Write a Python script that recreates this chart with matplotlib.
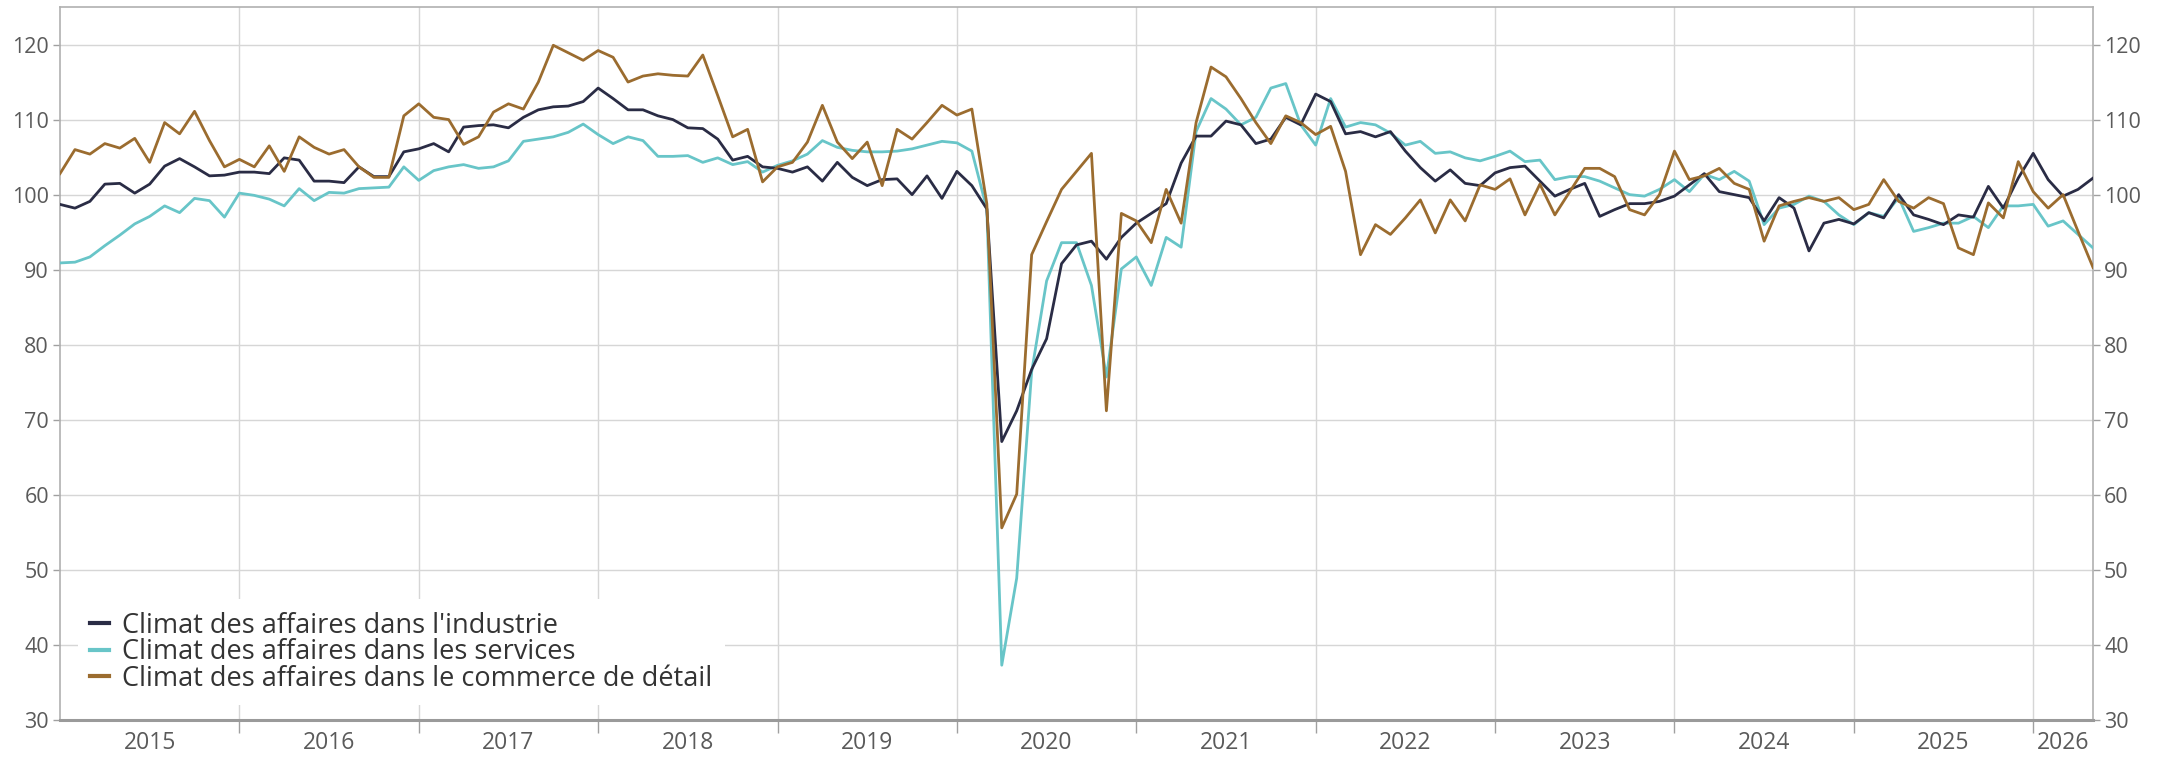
import matplotlib.pyplot as plt
import numpy as np

# Climat des affaires, mensuel, janvier 2015 -> mai 2026
industrie = [
    98.7, 98.2, 99.1, 101.4, 101.5, 100.2, 101.4, 103.8, 104.8, 103.7, 102.5, 102.6,
    103.0, 103.0, 102.8, 104.9, 104.6, 101.8, 101.8, 101.6, 103.7, 102.4, 102.4, 105.7,
    106.1, 106.8, 105.7, 109.0, 109.2, 109.3, 108.9, 110.3, 111.3, 111.7, 111.8, 112.4,
    114.2, 112.8, 111.3, 111.3, 110.5, 110.0, 108.9, 108.8, 107.4, 104.6, 105.1, 103.7,
    103.5, 103.0, 103.7, 101.8, 104.3, 102.3, 101.2, 102.0, 102.1, 100.0, 102.5, 99.5,
    103.1, 101.2, 98.1, 67.1, 71.2, 76.7, 80.8, 90.8, 93.3, 93.8, 91.4, 94.3,
    96.2, 97.5, 98.8, 104.2, 107.8, 107.8, 109.8, 109.3, 106.8, 107.4, 110.3, 109.3,
    113.4, 112.4, 108.1, 108.4, 107.7, 108.4, 105.8, 103.6, 101.8, 103.3, 101.5, 101.2,
    102.9, 103.6, 103.8, 101.8, 99.8, 100.7, 101.5, 97.1, 98.0, 98.8, 98.8, 99.1,
    99.8, 101.3, 102.8, 100.4, 100.0, 99.6, 96.5, 99.6, 98.2, 92.5, 96.2, 96.7,
    96.1, 97.6, 96.9, 100.0, 97.3, 96.7, 96.0, 97.3, 97.0, 101.1, 98.2, 102.2,
    105.5, 102.0, 99.8, 100.7, 102.2,
]
services = [
    90.9, 91.0, 91.7, 93.2, 94.6, 96.1, 97.1, 98.5, 97.6, 99.5, 99.2, 97.0,
    100.2, 99.9, 99.4, 98.5, 100.8, 99.2, 100.3, 100.2, 100.8, 100.9, 101.0, 103.7,
    101.9, 103.2, 103.7, 104.0, 103.5, 103.7, 104.5, 107.1, 107.4, 107.7, 108.3, 109.4,
    108.0, 106.8, 107.7, 107.2, 105.1, 105.1, 105.2, 104.3, 104.9, 104.0, 104.4, 103.0,
    103.9, 104.5, 105.4, 107.2, 106.3, 105.9, 105.7, 105.7, 105.8, 106.1, 106.6, 107.1,
    106.9, 105.8, 98.1, 37.3, 48.9, 76.4, 88.5, 93.6, 93.6, 87.9, 75.7, 90.1,
    91.7, 87.9, 94.3, 93.0, 108.4, 112.8, 111.4, 109.3, 110.3, 114.2, 114.8, 109.3,
    106.6, 112.8, 109.0, 109.6, 109.3, 108.2, 106.6, 107.1, 105.5, 105.7, 104.9, 104.5,
    105.1, 105.8, 104.4, 104.6, 102.0, 102.4, 102.4, 101.8, 100.9, 100.0, 99.8, 100.7,
    102.0, 100.4, 102.7, 102.0, 103.1, 101.8, 96.0, 98.2, 98.7, 99.8, 99.1, 97.3,
    96.0, 97.6, 97.1, 99.6, 95.1, 95.6, 96.2, 96.2, 97.1, 95.6, 98.5, 98.5,
    98.7, 95.8, 96.5, 94.7, 92.9,
]
commerce = [
    102.8, 106.0, 105.4, 106.8, 106.2, 107.5, 104.3, 109.6, 108.1, 111.1, 107.2, 103.7,
    104.7, 103.7, 106.5, 103.1, 107.7, 106.3, 105.4, 106.0, 103.7, 102.3, 102.3, 110.5,
    112.1, 110.3, 110.0, 106.7, 107.7, 111.0, 112.1, 111.4, 115.0, 119.9, 118.9, 117.9,
    119.2, 118.3, 115.0, 115.8, 116.1, 115.9, 115.8, 118.6, 113.2, 107.7, 108.7, 101.7,
    103.7, 104.3, 107.0, 111.9, 107.0, 104.8, 107.0, 101.2, 108.7, 107.4, 109.6, 111.9,
    110.6, 111.4, 98.8, 55.6, 60.1, 92.0, 96.4, 100.7, 103.1, 105.5, 71.2, 97.5,
    96.5, 93.6, 100.7, 96.2, 109.6, 117.0, 115.7, 112.8, 109.6, 106.8, 110.5, 109.6,
    108.0, 109.1, 103.1, 92.0, 96.0, 94.7, 96.9, 99.3, 94.9, 99.3, 96.5, 101.3,
    100.7, 102.1, 97.3, 101.4, 97.3, 100.4, 103.5, 103.5, 102.4, 98.0, 97.3, 100.0,
    105.8, 102.0, 102.5, 103.5, 101.5, 100.7, 93.8, 98.5, 99.1, 99.6, 99.1, 99.6,
    98.0, 98.7, 102.0, 99.1, 98.2, 99.6, 98.8, 92.9, 92.0, 98.9, 96.9, 104.4,
    100.4, 98.2, 100.0, 95.1, 90.3,
]
annees = [str(a) for a in range(2015, 2027)]
noms = ["Climat des affaires dans l'industrie",
        "Climat des affaires dans les services",
        "Climat des affaires dans le commerce de détail"]

n = len(industrie)
x = np.arange(n)

plt.rcParams['font.family'] = ['Open Sans', 'DejaVu Sans']

fig = plt.figure(figsize=(21.74, 7.59), dpi=100)
ax = fig.add_axes([60 / 2174, 1 - 720 / 759, 2033 / 2174, 713 / 759])

l1, = ax.plot(x, industrie, color='#2a2c45', lw=2.0, zorder=4)
l2, = ax.plot(x, services, color='#68c5c8', lw=2.0, zorder=3)
l3, = ax.plot(x, commerce, color='#9b6c2f', lw=2.0, zorder=5)

ax.set_xlim(0, n - 1)
ax.set_ylim(30, 125)
ax.set_yticks(range(30, 121, 10))

# traits verticaux au changement d'annee
bornes = list(range(12, n, 12))
ax.set_xticks(bornes)
ax.set_xticklabels([])
pos_annees = [(12 * k + min(12 * k + 12, n - 1)) / 2 for k in range(len(annees))]
ax.set_xticks(pos_annees, minor=True)
ax.set_xticklabels(annees, minor=True)

ax.grid(True, which='major', color='#d6d6d6', lw=1.0)
ax.set_axisbelow(True)

gris = '#5a5a5a'
ax.tick_params(axis='y', which='major', labelsize=15.5, colors=gris, length=5,
               width=1, right=True, labelright=True, pad=3)
ax.tick_params(axis='x', which='major', length=9, width=1, color='#a0a0a0')
ax.tick_params(axis='x', which='minor', length=0, labelsize=16.5,
               labelcolor=gris, pad=8)
ax.tick_params(axis='y', which='major', color='#a0a0a0')

for cote in ['left', 'right', 'top']:
    ax.spines[cote].set_color('#b0b0b0')
    ax.spines[cote].set_linewidth(1.2)
ax.spines['bottom'].set_color('#9a9a9a')
ax.spines['bottom'].set_linewidth(2.2)

leg = ax.legend([l1, l2, l3], noms, loc='lower left', bbox_to_anchor=(0.002, 0.002),
                fontsize=19.5, handlelength=0.7, handletextpad=0.5,
                labelspacing=-0.05, borderpad=0.45, frameon=True, fancybox=False,
                facecolor='white', edgecolor='none', framealpha=1)
for t in leg.get_texts():
    t.set_color('#333333')
for h in leg.get_lines():
    h.set_linewidth(3)
leg.set_zorder(6)

fig.savefig('out.png', dpi=100, facecolor='white')
